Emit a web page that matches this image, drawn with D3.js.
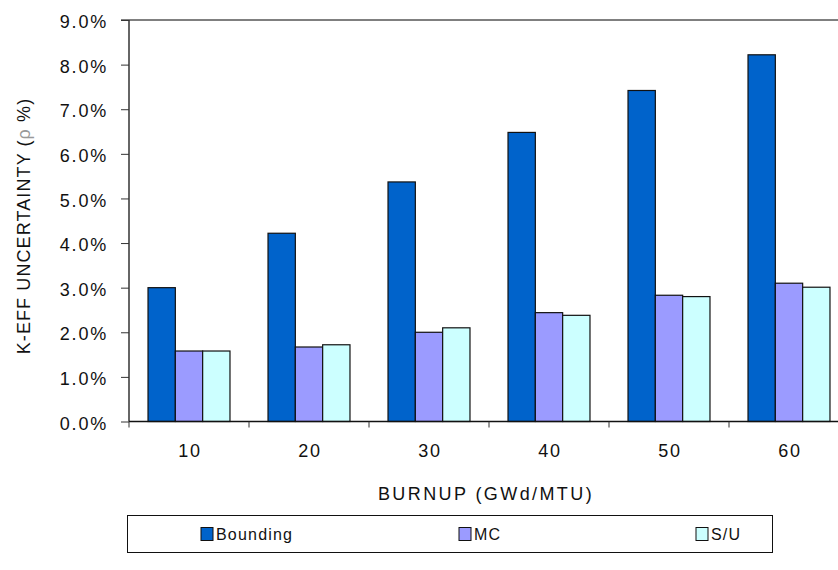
<!DOCTYPE html>
<html><head><meta charset="utf-8">
<script src="https://cdn.jsdelivr.net/npm/d3@7"></script>
<style>
body{margin:0;background:#fff;}
text{font-family:"Liberation Sans",Arial,sans-serif;}
</style></head>
<body><svg id="c" width="838" height="570"></svg>
<script>
const categories = ["10","20","30","40","50","60"];
const seriesNames = ["Bounding","MC","S/U"];
const bounding = [3.00, 4.22, 5.37, 6.48, 7.42, 8.22];
const mc = [1.58, 1.67, 2.00, 2.44, 2.83, 3.10];
const su = [1.58, 1.72, 2.10, 2.38, 2.80, 3.01];
const yTicks = [0,1,2,3,4,5,6,7,8,9];
const colors = ["#0063CB","#9B9BFF","#CCFFFF"];
const seriesValues = [bounding, mc, su];

(function(){
const svg = d3.select("#c");
const mLeft = 129, mTop = 20, mBottom = 421.5, mRight = 849;
const FS = 18;

const y = d3.scaleLinear().domain([0,9]).range([mBottom, mTop]);
const x0 = d3.scaleBand().domain(categories).range([mLeft, mRight]).paddingInner(0.317).paddingOuter(0.1585);
const x1 = d3.scaleBand().domain(seriesNames).range([0, x0.bandwidth()]);

// top border line
svg.append("line").attr("x1", mLeft-8).attr("x2", 838).attr("y1", y(9)).attr("y2", y(9))
  .attr("stroke","#000").attr("stroke-width",1);

// bars
const g = svg.append("g");
categories.forEach((c,i)=>{
  seriesNames.forEach((s,j)=>{
    g.append("rect")
      .attr("x", x0(c)+x1(s))
      .attr("y", y(seriesValues[j][i]))
      .attr("width", x1.bandwidth())
      .attr("height", y(0)-y(seriesValues[j][i]))
      .attr("fill", colors[j]).attr("stroke","#111").attr("stroke-width",1.2);
  });
});

// y axis
const yAxis = d3.axisLeft(y).tickValues(yTicks).tickFormat(d=>d.toFixed(1)+"%").tickSize(8).tickPadding(13);
const ya = svg.append("g").attr("transform",`translate(${mLeft},0)`).call(yAxis);
ya.attr("font-size",null).attr("font-family",null);
ya.select(".domain").attr("d",`M0,${mTop}V${mBottom}`).attr("stroke","#333").attr("stroke-width",1.5);
ya.selectAll(".tick line").attr("stroke","#333");
ya.selectAll("text").attr("font-size",FS).attr("fill","#111").attr("dy","0.42em").attr("letter-spacing",1.8);

// x axis
const xb = d3.scaleLinear().domain([0,6]).range([mLeft,mRight]);
svg.append("line").attr("x1",mLeft).attr("x2",838).attr("y1",mBottom).attr("y2",mBottom).attr("stroke","#111").attr("stroke-width",1.5);
d3.range(0,7).forEach(k=>{
  svg.append("line").attr("x1",xb(k)).attr("x2",xb(k)).attr("y1",mBottom).attr("y2",mBottom+6).attr("stroke","#333");
});
svg.append("g").selectAll("text").data(categories).join("text")
  .attr("x",d=>x0(d)+x0.bandwidth()/2+1).attr("y",457)
  .attr("text-anchor","middle").attr("font-size",FS).attr("fill","#111").attr("letter-spacing",1.7).text(d=>d);

// axis titles
svg.append("text").attr("x",486).attr("y",500).attr("text-anchor","middle")
  .attr("font-size",FS).attr("letter-spacing",2.4).attr("fill","#111").text("BURNUP (GWd/MTU)");
const yt = svg.append("text").attr("transform","translate(30,226) rotate(-90)").attr("text-anchor","middle")
  .attr("font-size",FS).attr("letter-spacing",1.1).attr("fill","#111");
yt.append("tspan").text("K-EFF UNCERTAINTY  (");
yt.append("tspan").attr("fill","#999").text("ρ");
yt.append("tspan").text(" %)");

// legend
svg.append("rect").attr("x",127.5).attr("y",515.5).attr("width",645).attr("height",37)
  .attr("fill","#fff").attr("stroke","#111").attr("stroke-width",1);
const legX = [201, 459, 696];
seriesNames.forEach((s,j)=>{
  svg.append("rect").attr("x",legX[j]).attr("y",527.5).attr("width",12).attr("height",13)
    .attr("fill",colors[j]).attr("stroke","#111").attr("stroke-width",1);
  svg.append("text").attr("x",legX[j]+15).attr("y",540).attr("font-size",16).attr("letter-spacing",1.2).attr("fill","#111").text(s);
});
})();
</script></body></html>
